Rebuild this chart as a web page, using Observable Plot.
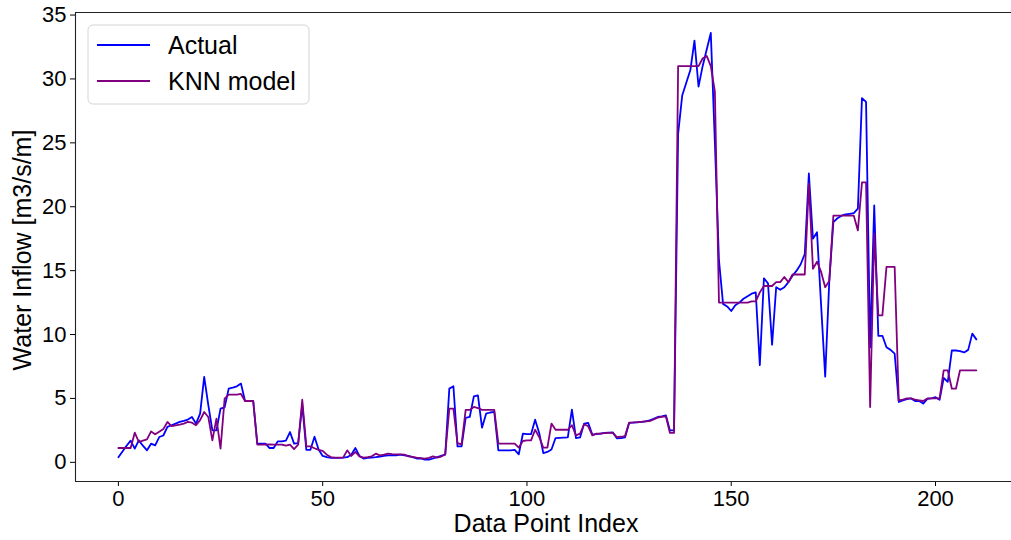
<!DOCTYPE html>
<html><head><meta charset="utf-8">
<script src="https://cdn.jsdelivr.net/npm/d3@7"></script>
<script src="https://cdn.jsdelivr.net/npm/@observablehq/plot@0.6"></script>
<style>
html,body{margin:0;padding:0;background:#fff;}
#wrap{width:1011px;height:540px;overflow:hidden;}
</style></head>
<body><div id="wrap"></div>
<script>
const seriesNames = ["Actual", "KNN model"];
const seriesColors = ["#0000ff", "#800080"];
const xTicks = [0, 50, 100, 150, 200];
const yTicks = [0, 5, 10, 15, 20, 25, 30, 35];
const xTitle = "Data Point Index";
const yTitle = "Water Inflow [m3/s/m]";

const actual = [
  0.4, 0.85, 1.3, 1.7, 1.07, 1.72, 1.3, 0.94, 1.46, 1.33,
  1.98, 2.1, 2.77, 2.9, 3.03, 3.16, 3.25, 3.35, 3.55, 3.03,
  3.81, 6.68, 4.5, 2.5, 2.5, 4.2, 4.3, 5.77, 5.85, 5.95,
  6.16, 4.8, 4.8, 4.8, 1.46, 1.46, 1.46, 1.12, 1.12, 1.64,
  1.64, 1.7, 2.37, 1.46, 1.5, 4.5, 0.98, 0.98, 2.0, 1.0,
  0.5, 0.4, 0.35, 0.35, 0.35, 0.37, 0.4, 0.6, 1.12, 0.5,
  0.3, 0.35, 0.37, 0.4, 0.45, 0.5, 0.55, 0.55, 0.55, 0.6,
  0.55, 0.5, 0.4, 0.3, 0.3, 0.22, 0.21, 0.3, 0.4, 0.5,
  0.6, 5.77, 5.95, 1.25, 1.25, 3.47, 3.55, 5.16, 5.24, 2.71,
  3.81, 3.9, 3.94, 0.94, 0.94, 0.94, 0.94, 0.97, 0.63, 2.24,
  2.2, 2.2, 3.34, 2.3, 0.73, 0.81, 1.0, 1.9, 1.92, 1.94,
  1.96, 4.12, 1.9, 1.95, 3.03, 3.08, 2.17, 2.2, 2.25, 2.3,
  2.33, 2.35, 1.88, 1.9, 1.95, 3.08, 3.1, 3.12, 3.16, 3.2,
  3.29, 3.4, 3.55, 3.6, 3.68, 2.5, 2.5, 25.7, 28.7, 29.7,
  30.7, 33.0, 29.4, 31.0, 32.3, 33.6, 25.0, 15.8, 12.4, 12.2,
  11.84, 12.3, 12.5, 12.8, 13.0, 13.2, 13.3, 7.6, 14.4, 14.0,
  9.2, 13.7, 13.5, 13.7, 14.1, 14.6, 15.0, 15.5, 16.3, 22.6,
  17.5, 18.0, 12.3, 6.7, 14.2, 18.8, 19.1, 19.3, 19.4, 19.45,
  19.5, 19.85, 28.5, 28.2, 9.0, 20.1, 9.9, 9.9, 9.0, 8.8,
  8.5, 4.72, 4.85, 4.95, 5.0, 4.8, 4.8, 4.6, 4.97, 5.0,
  5.1, 4.9, 6.6, 6.3, 8.76, 8.75, 8.7, 8.6, 8.8, 10.07, 9.62
];

const knn = [
  1.12, 1.12, 1.12, 1.12, 2.32, 1.59, 1.7, 1.8, 2.42, 2.19,
  2.4, 2.6, 3.16, 2.84, 2.9, 2.95, 3.03, 3.16, 3.1, 2.9,
  3.3, 3.94, 3.55, 1.72, 3.42, 1.07, 4.98, 5.3, 5.3, 5.3,
  5.35, 4.8, 4.8, 4.8, 1.38, 1.38, 1.38, 1.4, 1.38, 1.38,
  1.38, 1.3, 1.38, 1.04, 1.38, 4.9, 1.25, 1.25, 1.1, 0.98,
  0.9, 0.6, 0.41, 0.37, 0.37, 0.37, 0.94, 0.5, 0.81, 0.47,
  0.37, 0.4, 0.47, 0.68, 0.55, 0.6, 0.68, 0.65, 0.63, 0.63,
  0.6, 0.47, 0.42, 0.37, 0.33, 0.29, 0.35, 0.47, 0.37, 0.45,
  0.63, 4.2, 4.2, 1.51, 1.4, 4.1, 4.1, 4.33, 4.25, 4.1,
  4.1, 4.1, 4.1, 1.46, 1.46, 1.46, 1.46, 1.46, 1.15, 1.67,
  1.72, 1.72, 2.55, 1.98, 1.15, 1.15, 3.03, 2.55, 2.55, 2.55,
  2.55, 2.9, 2.11, 2.24, 2.98, 2.82, 2.11, 2.24, 2.25, 2.28,
  2.3, 2.3, 1.98, 2.0, 2.05, 3.1, 3.12, 3.15, 3.16, 3.2,
  3.22, 3.35, 3.5, 3.55, 3.6, 2.3, 2.3, 31.0, 31.0, 31.0,
  31.0, 31.0, 31.0, 31.6, 31.8, 31.0, 29.0, 12.5, 12.5, 12.5,
  12.5, 12.5, 12.5, 12.5, 12.5, 12.6, 12.6, 13.3, 13.8, 13.8,
  13.8, 14.1, 14.1, 14.5, 14.1, 14.7, 14.7, 14.7, 14.7, 21.8,
  15.15, 15.7, 14.9, 13.7, 14.2, 19.3, 19.3, 19.3, 19.3, 19.3,
  19.3, 18.15, 21.9, 21.9, 4.33, 17.9, 11.5, 11.5, 15.3, 15.3,
  15.3, 4.85, 4.9, 5.0, 5.0, 4.9, 4.85, 4.8, 5.0, 5.0,
  5.0, 5.0, 7.2, 7.2, 5.76, 5.76, 7.2, 7.2, 7.2, 7.2, 7.2
];

const rows = actual.map((v, i) => ({i, actual: v, knn: knn[i]}));
const xDomain = [-10.5, 218.6];
const yDomain = [-1.5, 35.2];
const font = "'Liberation Sans', Arial, sans-serif";

const chart = Plot.plot({
  width: 1011, height: 540,
  marginLeft: 75, marginRight: 0, marginTop: 12, marginBottom: 59,
  x: {domain: xDomain},
  y: {domain: yDomain},
  style: {fontFamily: font, fontSize: "22px", color: "#000", background: "#fff"},
  marks: [
    Plot.axisX({ticks: xTicks, tickSize: 5, tickPadding: 4, label: null, fontSize: 22, stroke: "#000"}),
    Plot.axisY({ticks: yTicks, tickSize: 5, tickPadding: 4, label: null, fontSize: 22, stroke: "#000"}),
    Plot.line(rows, {x: "i", y: "actual", stroke: seriesColors[0], strokeWidth: 1.8}),
    Plot.line(rows, {x: "i", y: "knn", stroke: seriesColors[1], strokeWidth: 1.8}),
    Plot.ruleX([xDomain[0]], {stroke: "#222", strokeWidth: 1.1}),
    Plot.ruleY([yDomain[0], yDomain[1]], {stroke: "#222", strokeWidth: 1.1})
  ]
});

const svg = d3.select(chart);
svg.append("text")
  .attr("x", 546).attr("y", 532)
  .attr("text-anchor", "middle")
  .style("font-family", font).style("font-size", "25px").attr("fill", "#000")
  .text(xTitle);
svg.append("text")
  .attr("transform", "translate(31,250) rotate(-90)")
  .attr("text-anchor", "middle")
  .style("font-family", font).style("font-size", "25px").attr("fill", "#000")
  .text(yTitle);

const lg = svg.append("g");
lg.append("rect").attr("x", 88).attr("y", 25).attr("width", 221).attr("height", 79)
  .attr("rx", 5).attr("fill", "rgba(255,255,255,0.8)").attr("stroke", "#d4d4d4").attr("stroke-width", 1);
seriesNames.forEach((name, k) => {
  const y = 45 + k * 36;
  lg.append("line").attr("x1", 97).attr("x2", 150).attr("y1", y).attr("y2", y)
    .attr("stroke", seriesColors[k]).attr("stroke-width", 1.8);
  lg.append("text").attr("x", 168).attr("y", y).attr("dy", "0.35em")
    .attr("text-anchor", "start")
    .style("font-family", font).style("font-size", "25px").attr("fill", "#000")
    .text(name);
});

document.getElementById("wrap").appendChild(chart);
</script>
</body></html>
